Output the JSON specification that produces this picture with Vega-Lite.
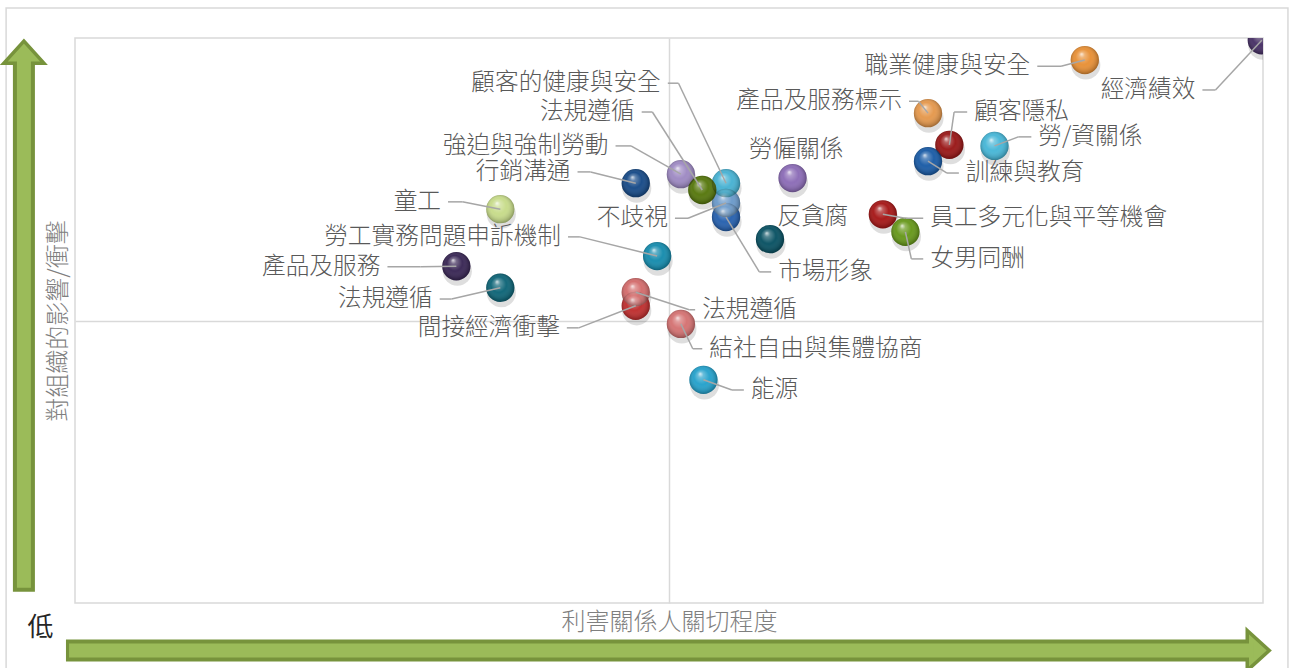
{
  "$schema": "https://vega.github.io/schema/vega-lite/v6.json",
  "width": 1188,
  "height": 565,
  "autosize": {"type": "none"},
  "padding": {"left": 75, "top": 38, "right": 29, "bottom": 65},
  "background": "white",
  "config": {"view": {"stroke": "#d9d9d9", "strokeWidth": 1.5}, "font": "Noto Sans CJK TC"},
  "data": {"values": [
    {"id": "p01", "label": "經濟績效", "x": 9.99, "y": 9.96, "lx": 9.49, "ex": 9.60, "ly": 9.08, "side": "L"},
    {"id": "p02", "label": "職業健康與安全", "x": 8.50, "y": 9.61, "lx": 8.10, "ex": 8.30, "ly": 9.50, "side": "L"},
    {"id": "p03", "label": "產品及服務標示", "x": 7.18, "y": 8.67, "lx": 7.02, "ex": 7.10, "ly": 8.88, "side": "L"},
    {"id": "p04", "label": "顧客隱私", "x": 7.36, "y": 8.11, "lx": 7.51, "ex": 7.40, "ly": 8.69, "side": "R"},
    {"id": "p05", "label": "訓練與教育", "x": 7.18, "y": 7.82, "lx": 7.44, "ex": 7.34, "ly": 7.61, "side": "R"},
    {"id": "p06", "label": "勞/資關係", "x": 7.74, "y": 8.09, "lx": 8.05, "ex": 7.94, "ly": 8.25, "side": "R"},
    {"id": "p07", "label": "員工多元化與平等機會", "x": 6.80, "y": 6.88, "lx": 7.14, "ex": 6.99, "ly": 6.81, "side": "R"},
    {"id": "p08", "label": "女男同酬", "x": 6.99, "y": 6.57, "lx": 7.14, "ex": 7.04, "ly": 6.09, "side": "R"},
    {"id": "p09", "label": "勞僱關係", "x": 6.04, "y": 7.52, "lx": 6.07, "ex": 6.07, "ly": 8.02, "side": "C"},
    {"id": "p10", "label": "反貪腐", "x": 5.85, "y": 6.44, "lx": 6.21, "ex": 6.21, "ly": 6.83, "side": "C"},
    {"id": "p11", "label": "市場形象", "x": 5.48, "y": 6.83, "lx": 5.86, "ex": 5.76, "ly": 5.86, "side": "R"},
    {"id": "p12", "label": "不歧視", "x": 5.48, "y": 7.08, "lx": 5.05, "ex": 5.16, "ly": 6.81, "side": "L"},
    {"id": "p13", "label": "顧客的健康與安全", "x": 5.48, "y": 7.43, "lx": 4.99, "ex": 5.08, "ly": 9.20, "side": "L"},
    {"id": "p14", "label": "強迫與強制勞動", "x": 5.10, "y": 7.59, "lx": 4.55, "ex": 4.68, "ly": 8.09, "side": "L"},
    {"id": "p15", "label": "法規遵循", "x": 5.28, "y": 7.31, "lx": 4.77, "ex": 4.86, "ly": 8.69, "side": "L"},
    {"id": "p16", "label": "行銷溝通", "x": 4.72, "y": 7.43, "lx": 4.23, "ex": 4.34, "ly": 7.63, "side": "L"},
    {"id": "p17", "label": "童工", "x": 3.58, "y": 6.97, "lx": 3.14, "ex": 3.26, "ly": 7.10, "side": "L"},
    {"id": "p18", "label": "勞工實務問題申訴機制", "x": 4.90, "y": 6.14, "lx": 4.15, "ex": 4.25, "ly": 6.48, "side": "L"},
    {"id": "p19", "label": "產品及服務", "x": 3.21, "y": 5.96, "lx": 2.63, "ex": 2.91, "ly": 5.95, "side": "L"},
    {"id": "p20", "label": "法規遵循", "x": 3.58, "y": 5.58, "lx": 3.07, "ex": 3.17, "ly": 5.38, "side": "L"},
    {"id": "p21", "label": "間接經濟衝擊", "x": 4.72, "y": 5.26, "lx": 4.14, "ex": 4.24, "ly": 4.87, "side": "L"},
    {"id": "p22", "label": "法規遵循", "x": 4.72, "y": 5.50, "lx": 5.22, "ex": 5.17, "ly": 5.19, "side": "R"},
    {"id": "p23", "label": "結社自由與集體協商", "x": 5.10, "y": 4.94, "lx": 5.28, "ex": 5.20, "ly": 4.50, "side": "R"},
    {"id": "p24", "label": "能源", "x": 5.29, "y": 3.95, "lx": 5.63, "ex": 5.53, "ly": 3.77, "side": "R"}
  ]},
  "layer": [
    {
      "data": {"values": [{}]},
      "mark": {"type": "rect", "fill": null, "stroke": "#d9d9d9", "strokeWidth": 1.5, "clip": false},
      "encoding": {
        "x": {"datum": -0.58, "type": "quantitative"},
        "x2": {"datum": 10.21},
        "y": {"datum": 10.53, "type": "quantitative"},
        "y2": {"datum": -1.6}
      }
    },
    {
      "data": {"values": [{}]},
      "mark": {"type": "rule", "color": "#77933C", "strokeWidth": 22, "strokeCap": "butt"},
      "encoding": {
        "x": {"datum": -0.43, "type": "quantitative"},
        "y": {"datum": 9.58, "type": "quantitative"},
        "y2": {"datum": 0.2}
      }
    },
    {
      "data": {"values": [{}]},
      "mark": {"type": "point", "shape": "M-1,0.55L0,-0.55L1,0.55Z", "size": 1600, "filled": true, "fill": "#9BBB59", "stroke": "#77933C", "strokeWidth": 3.5, "opacity": 1, "strokeJoin": "miter"},
      "encoding": {
        "x": {"datum": -0.43, "type": "quantitative"},
        "y": {"datum": 9.75, "type": "quantitative"}
      }
    },
    {
      "data": {"values": [{}]},
      "mark": {"type": "rule", "color": "#9BBB59", "strokeWidth": 14, "strokeCap": "butt"},
      "encoding": {
        "x": {"datum": -0.43, "type": "quantitative"},
        "y": {"datum": 9.62, "type": "quantitative"},
        "y2": {"datum": 0.27}
      }
    },
    {
      "data": {"values": [{}]},
      "mark": {"type": "rule", "color": "#77933C", "strokeWidth": 22, "strokeCap": "butt"},
      "encoding": {
        "x": {"datum": -0.076, "type": "quantitative"},
        "x2": {"datum": 9.89},
        "y": {"datum": -0.84, "type": "quantitative"}
      }
    },
    {
      "data": {"values": [{}]},
      "mark": {"type": "point", "shape": "M-0.55,-1L0.55,0L-0.55,1Z", "size": 1600, "filled": true, "fill": "#9BBB59", "stroke": "#77933C", "strokeWidth": 3.5, "opacity": 1, "strokeJoin": "miter"},
      "encoding": {
        "x": {"datum": 9.96, "type": "quantitative"},
        "y": {"datum": -0.84, "type": "quantitative"}
      }
    },
    {
      "data": {"values": [{}]},
      "mark": {"type": "rule", "color": "#9BBB59", "strokeWidth": 14, "strokeCap": "butt"},
      "encoding": {
        "x": {"datum": -0.05, "type": "quantitative"},
        "x2": {"datum": 9.92},
        "y": {"datum": -0.84, "type": "quantitative"}
      }
    },
    {
      "data": {"values": [{"t": "低"}]},
      "mark": {"type": "text", "fontSize": 26, "color": "#262626", "align": "center", "baseline": "middle"},
      "encoding": {
        "x": {"datum": -0.29, "type": "quantitative"},
        "y": {"datum": -0.44, "type": "quantitative"},
        "text": {"field": "t"}
      }
    },
    {
      "mark": {"type": "point", "shape": "circle", "filled": true, "size": 850, "color": "#000000", "opacity": 0.13, "yOffset": 5, "xOffset": 1, "clip": true},
      "encoding": {
        "x": {"field": "x", "type": "quantitative"},
        "y": {"field": "y", "type": "quantitative"}
      }
    },
    {
      "mark": {"type": "point", "shape": "circle", "filled": true, "size": 800, "opacity": 1, "clip": true},
      "encoding": {
        "x": {"field": "x", "type": "quantitative", "scale": {"domain": [0, 10], "nice": false},
          "axis": {"title": "利害關係人關切程度", "values": [5], "labels": false, "ticks": false, "domain": false, "grid": true, "gridColor": "#d9d9d9", "gridWidth": 1.5, "titleColor": "#7f7f7f", "titleFontSize": 24, "titleFontWeight": 300, "titlePadding": 7}},
        "y": {"field": "y", "type": "quantitative", "scale": {"domain": [0, 10], "nice": false},
          "axis": {"title": "對組織的影響/衝擊", "values": [5], "labels": false, "ticks": false, "domain": false, "grid": true, "gridColor": "#d9d9d9", "gridWidth": 1.5, "titleColor": "#7f7f7f", "titleFontSize": 24, "titleFontWeight": 300, "titlePadding": 5}},
        "color": {"field": "id", "type": "nominal", "legend": null,
          "scale": {"domain": ["p01","p02","p03","p04","p05","p06","p07","p08","p09","p10","p11","p12","p13","p14","p15","p16","p17","p18","p19","p20","p21","p22","p23","p24"],
            "range": ["#4B3468","#E8923A","#E59A50","#9B1C1C","#1F5FA8","#4BB8D8","#A81C1C","#6A9A1F","#8E6FB8","#0E5566","#2B64B0","#6E9CCB","#4BB3D3","#A08CC4","#5A7A12","#1C4E8A","#C8DC8C","#1B8EAF","#3D2B58","#13687A","#C03333","#D46F6F","#D57575","#2AA3CC"]}}
      }
    },
    {
      "mark": {"type": "point", "shape": "circle", "filled": true, "size": 800, "opacity": 1, "clip": true,
        "fill": {"gradient": "radial", "x1": 0.38, "y1": 0.28, "r1": 0, "x2": 0.5, "y2": 0.5, "r2": 0.55,
          "stops": [
            {"offset": 0, "color": "rgba(255,255,255,0.85)"},
            {"offset": 0.18, "color": "rgba(255,255,255,0.3)"},
            {"offset": 0.5, "color": "rgba(255,255,255,0)"},
            {"offset": 0.85, "color": "rgba(0,0,0,0.18)"},
            {"offset": 1, "color": "rgba(0,0,0,0.42)"}
          ]}},
      "encoding": {
        "x": {"field": "x", "type": "quantitative"},
        "y": {"field": "y", "type": "quantitative"}
      }
    },
    {
      "transform": [{"filter": "datum.side != 'C'"}],
      "mark": {"type": "rule", "color": "#A6A6A6", "strokeWidth": 1.5},
      "encoding": {
        "x": {"field": "x", "type": "quantitative"},
        "y": {"field": "y", "type": "quantitative"},
        "x2": {"field": "ex"},
        "y2": {"field": "ly"}
      }
    },
    {
      "transform": [{"filter": "datum.side != 'C'"}],
      "mark": {"type": "rule", "color": "#A6A6A6", "strokeWidth": 1.5},
      "encoding": {
        "x": {"field": "ex", "type": "quantitative"},
        "y": {"field": "ly", "type": "quantitative"},
        "x2": {"field": "lx"}
      }
    },
    {
      "transform": [{"filter": "datum.side == 'L'"}],
      "mark": {"type": "text", "align": "right", "baseline": "middle", "dx": -7, "fontSize": 23.7, "fontWeight": 300, "color": "#595959"},
      "encoding": {
        "x": {"field": "lx", "type": "quantitative"},
        "y": {"field": "ly", "type": "quantitative"},
        "text": {"field": "label"}
      }
    },
    {
      "transform": [{"filter": "datum.side == 'R'"}],
      "mark": {"type": "text", "align": "left", "baseline": "middle", "dx": 7, "fontSize": 23.7, "fontWeight": 300, "color": "#595959"},
      "encoding": {
        "x": {"field": "lx", "type": "quantitative"},
        "y": {"field": "ly", "type": "quantitative"},
        "text": {"field": "label"}
      }
    },
    {
      "transform": [{"filter": "datum.side == 'C'"}],
      "mark": {"type": "text", "align": "center", "baseline": "middle", "fontSize": 23.7, "fontWeight": 300, "color": "#595959"},
      "encoding": {
        "x": {"field": "lx", "type": "quantitative"},
        "y": {"field": "ly", "type": "quantitative"},
        "text": {"field": "label"}
      }
    }
  ]
}
